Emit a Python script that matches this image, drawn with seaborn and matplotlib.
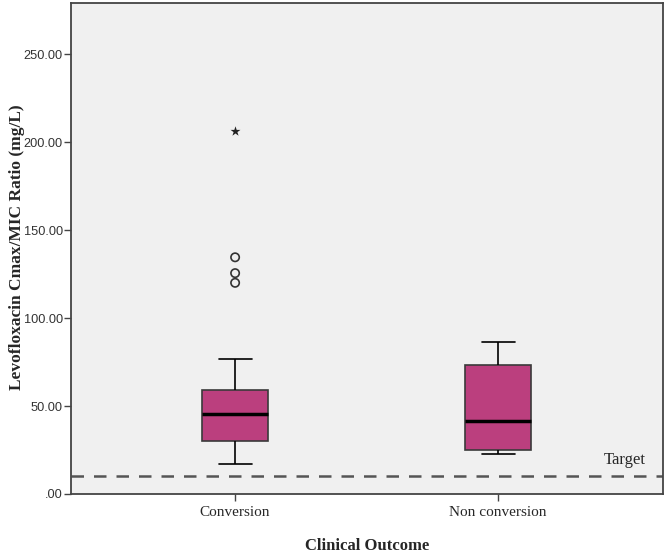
import numpy as np
import pandas as pd
import seaborn as sns
import matplotlib
matplotlib.use("Agg")
import matplotlib.pyplot as plt

# values (mg/L)
groups = ['Conversion', 'Non conversion']
conversion_vals = [17, 20, 24, 27, 29, 30, 33, 37, 41, 44, 45.6, 48, 51, 54, 57, 59, 76.5,
                   120, 125.5, 134.5, 206]
nonconv_vals = [22.5, 24, 25, 33, 41.5, 60, 73.5, 80, 86.5]
conversion_outliers = [120, 125.5, 134.5]
conversion_extremes = [206]
target = 10

yticks = [0, 50, 100, 150, 200, 250]
ytick_labels = ['.00', '50.00', '100.00', '150.00', '200.00', '250.00']

box_color = '#BB3F7E'
edge = '#3a3a3a'

df = pd.DataFrame({
    'outcome': ['Conversion'] * len(conversion_vals) + ['Non conversion'] * len(nonconv_vals),
    'ratio': conversion_vals + nonconv_vals,
})

sns.set_style('white')
fig = plt.figure(figsize=(6.65, 5.53), dpi=100)
ax = fig.add_axes([71 / 665, 1 - 494 / 553, 592 / 665, 491 / 553])
ax.set_facecolor('#F0F0F0')

sns.boxplot(data=df, x='outcome', y='ratio', order=groups, ax=ax,
            width=0.25, showfliers=False, whis=1.5,
            color=box_color, saturation=1, linewidth=1.2, linecolor=edge,
            boxprops=dict(facecolor=box_color, edgecolor=edge),
            medianprops=dict(color='black', linewidth=2.5),
            whiskerprops=dict(color='black', linewidth=1.2),
            capprops=dict(color='black', linewidth=1.2))

# caps about half the box width
for ln in ax.lines:
    xd = np.asarray(ln.get_xdata(), dtype=float)
    yd = np.asarray(ln.get_ydata(), dtype=float)
    if len(yd) == 2 and yd[0] == yd[1] and ln.get_linewidth() < 2:
        c = xd.mean()
        half = (xd[1] - xd[0]) / 2
        if abs(half) > 0.08:
            ln.set_xdata([c - 0.07, c + 0.07])

out_df = pd.DataFrame({'outcome': ['Conversion'] * len(conversion_outliers), 'ratio': conversion_outliers})
ext_df = pd.DataFrame({'outcome': ['Conversion'] * len(conversion_extremes), 'ratio': conversion_extremes})
sns.stripplot(data=out_df, x='outcome', y='ratio', order=groups, ax=ax, jitter=False,
              marker='o', size=6, facecolors='none', edgecolor='#333333', linewidth=1.2,
              color='none')
sns.stripplot(data=ext_df, x='outcome', y='ratio', order=groups, ax=ax, jitter=False,
              marker='*', size=7.5, color='#222222')

ax.axhline(target, color='#555555', linestyle=(0, (5, 4)), linewidth=1.8)
ax.text(1.56, target + 5, 'Target', fontsize=12, family='Liberation Serif', ha='right', va='bottom')

ax.set_xlim(-0.624, 1.627)
ax.set_ylim(0, 279)
ax.set_yticks(yticks)
ax.set_yticklabels(ytick_labels, family='Liberation Sans', fontsize=9.2, color='#333333')
ax.set_xticks([0, 1])
ax.set_xticklabels(groups, family='Liberation Serif', fontsize=11)
ax.tick_params(axis='both', direction='out', length=5, width=1, color='#444444', bottom=True, left=True)
ax.tick_params(axis='y', pad=1)

ax.set_xlabel('Clinical Outcome', family='Liberation Serif', fontweight='bold', fontsize=12, labelpad=14)
ax.set_ylabel('Levofloxacin Cmax/MIC Ratio (mg/L)', family='Liberation Serif', fontweight='bold',
              fontsize=12.5)
ax.yaxis.set_label_coords(-0.078, 0.502)

for s in ax.spines.values():
    s.set_color('#444444')
    s.set_linewidth(1.3)

fig.savefig('out.png', dpi=100, facecolor='white')
